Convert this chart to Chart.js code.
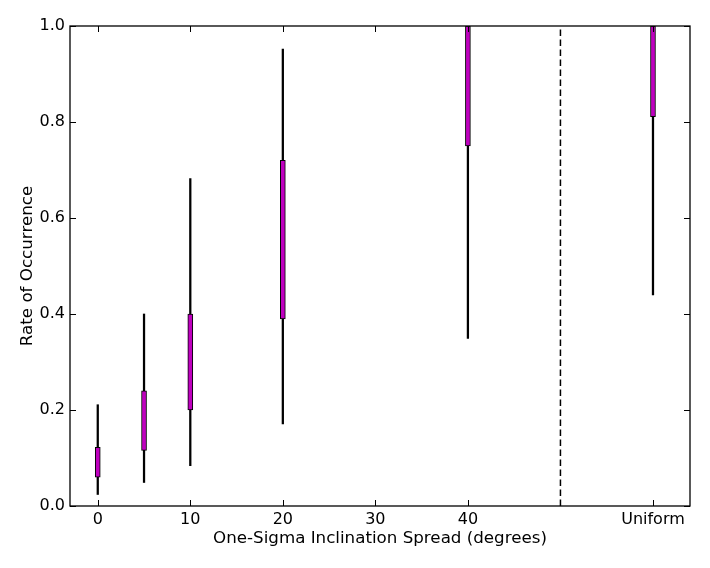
<!DOCTYPE html>
<html>
<head>
<meta charset="utf-8">
<script src="https://cdn.jsdelivr.net/npm/chart.js@4"></script>
<style>
  html, body { margin: 0; padding: 0; background: #fff; }
  #wrap { width: 710px; height: 568px; }
</style>
</head>
<body>
<div id="wrap"><canvas id="myChart" width="710" height="568"></canvas></div>
<script>
// inclination spread (degrees); 60 stands in for the "Uniform" case
const spreads = [0, 5, 10, 20, 40, 60];
const boxLow = [0.06, 0.116, 0.2, 0.39, 0.75, 0.811];
const boxHigh = [0.122, 0.24, 0.4, 0.72, 1.0, 1.0];
const whiskLow = [0.024, 0.049, 0.084, 0.171, 0.349, 0.44];
const whiskHigh = [0.211, 0.4, 0.682, 0.952, 1.0, 1.0];

const xTickValues = [0, 10, 20, 30, 40, 60];
const xTickLabels = ['0', '10', '20', '30', '40', 'Uniform'];
const yTickValues = [0, 0.2, 0.4, 0.6, 0.8, 1.0];
const dividerX = 50;

const tickFont = { family: 'DejaVu Sans', size: 16 };
const titleFont = { family: 'DejaVu Sans', size: 16.7 };

// matplotlib-style frame with inward ticks on all four sides
const frameTicks = {
  id: 'frameTicks',
  afterDraw(chart) {
    const ctx = chart.ctx;
    const a = chart.chartArea;
    const xs = chart.scales.x;
    const ys = chart.scales.y;
    const len = 6;
    ctx.save();
    ctx.strokeStyle = '#000';
    ctx.lineWidth = 1;
    ctx.beginPath();
    xTickValues.forEach((v) => {
      const px = Math.round(xs.getPixelForValue(v)) + 0.5;
      ctx.moveTo(px, a.bottom);
      ctx.lineTo(px, a.bottom - len);
      ctx.moveTo(px, a.top);
      ctx.lineTo(px, a.top + len);
    });
    yTickValues.forEach((v) => {
      const py = Math.round(ys.getPixelForValue(v)) + 0.5;
      ctx.moveTo(a.left, py);
      ctx.lineTo(a.left + len, py);
      ctx.moveTo(a.right, py);
      ctx.lineTo(a.right - len, py);
    });
    ctx.stroke();
    ctx.lineWidth = 1.3;
    ctx.strokeRect(a.left, a.top, a.right - a.left, a.bottom - a.top);
    ctx.restore();
  },
};

const chartConfig = {
  type: 'bar',
  data: {
    datasets: [
      {
        label: 'box',
        data: spreads.map((x, i) => ({ x: x, y: [boxLow[i], boxHigh[i]] })),
        backgroundColor: '#bf00bf',
        borderColor: '#000',
        borderWidth: 1,
        borderSkipped: false,
        barThickness: 5,
        grouped: false,
      },
      {
        label: 'range',
        data: spreads.map((x, i) => ({ x: x, y: [whiskLow[i], whiskHigh[i]] })),
        backgroundColor: '#000',
        borderWidth: 0,
        barThickness: 1.6,
        grouped: false,
      },
      {
        type: 'line',
        label: 'divider',
        data: [
          { x: dividerX, y: 0 },
          { x: dividerX, y: 1 },
        ],
        borderColor: '#000',
        borderWidth: 1.5,
        borderDash: [6.5, 3.5],
        pointRadius: 0,
      },
    ],
  },
  options: {
    responsive: false,
    animation: false,
    layout: { padding: { top: 26, right: 20, left: 0, bottom: 0 } },
    plugins: {
      legend: { display: false },
      tooltip: { enabled: false },
    },
    scales: {
      x: {
        type: 'linear',
        offset: false,
        min: -3,
        max: 64,
        grid: { display: false, drawTicks: false, offset: false },
        border: { display: false },
        afterFit: (scale) => {
          scale.height = 62;
        },
        afterBuildTicks: (scale) => {
          scale.ticks = xTickValues.map((v) => ({ value: v }));
        },
        ticks: {
          color: '#000',
          font: tickFont,
          padding: 4,
          maxRotation: 0,
          autoSkip: false,
          callback: (v) => xTickLabels[xTickValues.indexOf(v)],
        },
        title: {
          display: true,
          text: 'One-Sigma Inclination Spread (degrees)',
          color: '#000',
          font: titleFont,
          padding: { top: 0, bottom: 19 },
        },
      },
      y: {
        min: 0,
        max: 1,
        grid: { display: false, drawTicks: false },
        border: { display: false },
        afterFit: (scale) => {
          scale.width = 70;
        },
        afterBuildTicks: (scale) => {
          scale.ticks = yTickValues.map((v) => ({ value: v }));
        },
        ticks: {
          color: '#000',
          font: tickFont,
          padding: 5,
          callback: (v) => v.toFixed(1),
        },
        title: {
          display: true,
          text: 'Rate of Occurrence',
          color: '#000',
          font: titleFont,
          padding: { top: 18, bottom: 0 },
        },
      },
    },
  },
  plugins: [frameTicks],
};

const myChart = new Chart(document.getElementById('myChart'), chartConfig);
</script>
</body>
</html>
